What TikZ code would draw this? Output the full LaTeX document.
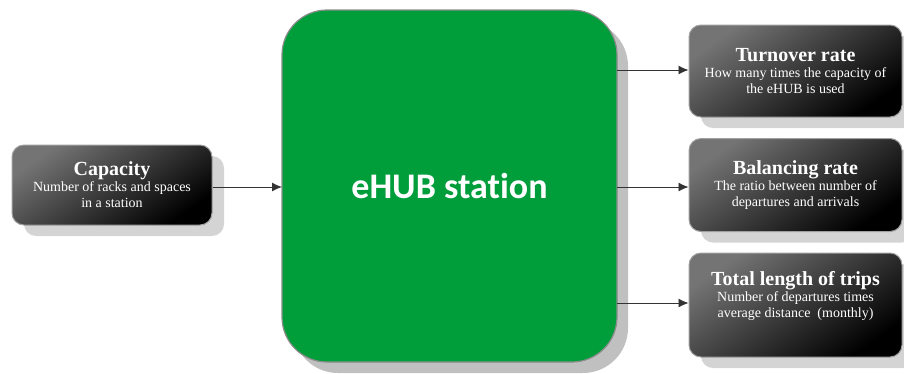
\documentclass[tikz,border=0pt]{standalone}
\usepackage{fontspec}
\setmainfont{Liberation Serif}
\newfontfamily\hubfont[Ligatures={NoCommon,NoRare,NoContextual}]{Carlito}
\usetikzlibrary{shadows,arrows.meta}
\definecolor{hubgreen}{HTML}{009E3A}
\definecolor{shadowA}{HTML}{C0C0C0}
\definecolor{shadowB}{HTML}{D4D4D4}
\definecolor{boxtop}{HTML}{747474}
\definecolor{boxmid}{HTML}{404040}
\definecolor{boxbot}{HTML}{000000}
\definecolor{arrowgray}{HTML}{333333}
\begin{document}
\begin{tikzpicture}[x=1pt,y=-1pt,
  darkbox/.style={rounded corners=12pt, draw=gray!75, line width=1pt,
    shading=axis, top color=boxtop, middle color=boxmid, bottom color=boxbot, shading angle=35,
    general shadow={fill=shadowB, shadow xshift=12pt, shadow yshift=-11pt},
    text=white, align=center, inner sep=0pt, minimum width=213pt,
    font=\fontsize{14}{16}\selectfont},
  hubbox/.style={rounded corners=45pt, draw=gray!90, line width=1.2pt, fill=hubgreen,
    general shadow={fill=shadowA, shadow xshift=11pt, shadow yshift=-11pt},
    text=white, inner sep=0pt, minimum width=335pt, minimum height=352pt,
    font=\hubfont\bfseries\fontsize{36}{40}\selectfont},
  conn/.style={draw=arrowgray, line width=0.9pt, -{Latex[length=10pt,width=9pt]}}]
\useasboundingbox (0,0) rectangle (904,373);

\node[hubbox] (hub) at (449.5,186) {eHUB stat\kern0pt ion};

\node[darkbox, minimum width=200pt, minimum height=80pt] (cap) at (112,185)
  {{\fontsize{20}{22}\selectfont\bfseries Capacity}\\Number of racks and spaces\\in a station};

\node[darkbox, minimum height=92pt] (turn) at (795.5,71)
  {{\fontsize{20}{22}\selectfont\bfseries Turnover rate}\\How many times the capacity of\\the eHUB is used};

\node[darkbox, minimum height=93pt] (bal) at (795.5,185)
  {{\fontsize{20}{22}\selectfont\bfseries Balancing rate}\\The ratio between number of\\departures and arrivals};

\node[darkbox, minimum height=104pt] (tot) at (795.5,305)
  {{\fontsize{20}{22}\selectfont\bfseries Total length of trips}\\Number of departures times\\average distance\ \ (monthly)\\[6pt]};

\coordinate (s1) at (617,70);
\coordinate (s2) at (617,187);
\coordinate (s3) at (617,303);
\coordinate (e0) at (282,187);
\draw[conn] (cap.east |- e0) -- (e0);
\draw[conn] (s1) -- (turn.west |- s1);
\draw[conn] (s2) -- (bal.west |- s2);
\draw[conn] (s3) -- (tot.west |- s3);
\end{tikzpicture}
\end{document}
